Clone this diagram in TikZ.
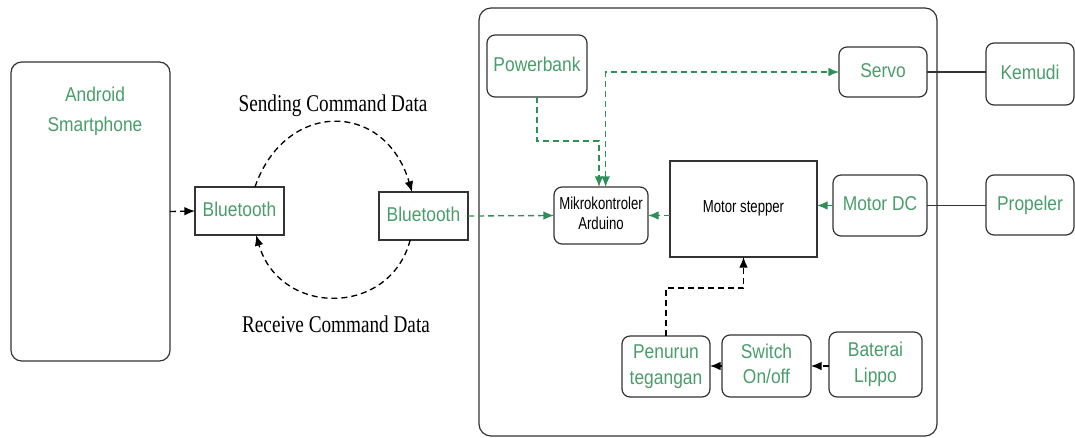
\documentclass[tikz,border=0pt]{standalone}
\usepackage{fontspec}
\usepackage{graphicx}
\usetikzlibrary{arrows.meta,calc}
\newfontfamily\sansf{Liberation Sans}
\newfontfamily\seriff{Liberation Serif}
\definecolor{txtgreen}{RGB}{74,157,107}
\definecolor{lngreen}{RGB}{47,143,90}
\newcommand{\gl}[1]{{\sansf\fontsize{15}{19}\selectfont\scalebox{0.87}[1]{\begin{tabular}{@{}c@{}}#1\end{tabular}}}}
\newcommand{\smalllbl}[1]{{\sansf\fontsize{13}{14.5}\selectfont\scalebox{0.76}[1]{\begin{tabular}{@{}c@{}}#1\end{tabular}}}}
\newcommand{\serlbl}[1]{{\seriff\fontsize{18}{20}\selectfont\scalebox{0.8}[1]{#1}}}
\tikzset{
  box/.style={draw=black!80, line width=0.9pt, inner sep=0pt, outer sep=0pt},
  rbox/.style={box, rounded corners=6pt},
  gtext/.style={text=txtgreen},
  gtip/.style={},
  garrow/.style={draw=lngreen, line width=1pt, dash pattern=on 4.5pt off 3pt, -{Latex[length=8pt,width=6.5pt,fill=lngreen]}},
  gboth/.style={draw=lngreen, line width=1pt, dash pattern=on 4.5pt off 3pt, {Latex[length=8pt,width=6.5pt,fill=lngreen]}-{Latex[length=8pt,width=6.5pt,fill=lngreen]}},
  barrow/.style={draw=black, line width=1pt, dash pattern=on 4.5pt off 3pt, -{Latex[length=8pt,width=6.5pt]}},
  solidline/.style={draw=black!80, line width=0.9pt}
}
\begin{document}
\begin{tikzpicture}[x=0.75pt, y=-0.75pt]
\useasboundingbox (0,0) rectangle (1075,437);
% left side
\node[rbox, rounded corners=8pt, minimum width=119.25pt, minimum height=224.25pt] (android) at (90.5,211.5) {};
\node[gtext] (androidlbl) at (95,111) {\gl{Android\\[3.5pt]Smartphone}};
\node[box, gtext, minimum width=66.75pt, minimum height=36pt] (bt1) at (239.5,211) {\gl{Bluetooth}};
\node[box, gtext, minimum width=66.75pt, minimum height=36pt] (bt2) at (423.5,216) {\gl{Bluetooth}};
\node[anchor=base] (sendlbl) at (333,111) {\serlbl{Sending Command Data}};
\node[anchor=base] (recvlbl) at (336,332) {\serlbl{Receive Command Data}};
% panel
\node[box, rounded corners=9pt, minimum width=343.5pt, minimum height=321pt] (panel) at (708,222) {};
\node[rbox, gtext, minimum width=75pt, minimum height=46.5pt] (pb) at (537,66) {\gl{Powerbank}};
\node[rbox, minimum width=70.5pt, minimum height=42.75pt] (mk) at (601,215.5) {\smalllbl{Mikrokontroler\\Arduino}};
\node[box, minimum width=110.25pt, minimum height=72pt] (ms) at (743.5,209) {\smalllbl{Motor stepper}};
\node[rbox, gtext, minimum width=66pt, minimum height=37.5pt] (sv) at (883,72) {\gl{Servo}};
\node[rbox, gtext, minimum width=66pt, minimum height=46.5pt] (km) at (1030,74) {\gl{Kemudi}};
\node[rbox, gtext, minimum width=70.5pt, minimum height=45.75pt] (md) at (880,205.5) {\gl{Motor DC}};
\node[rbox, gtext, minimum width=66pt, minimum height=45pt] (pr) at (1030,205) {\gl{Propeler}};
\node[rbox, gtext, minimum width=66pt, minimum height=45.75pt] (pt) at (666,366.5) {\gl{Penurun\\tegangan}};
\node[rbox, gtext, minimum width=66.75pt, minimum height=46.5pt] (sw) at (766.5,366) {\gl{Switch\\On/off}};
\node[rbox, gtext, minimum width=69.75pt, minimum height=48.75pt] (bl) at (875.5,364.5) {\gl{Baterai\\Lippo}};
% connectors left
\draw[barrow] (android.east) -- (bt1.west);
\draw[barrow] ([xshift=11.6pt]bt1.north) .. controls (285,100) and (385,100) .. ([xshift=-8.6pt]bt2.north);
\draw[barrow] ([xshift=-10pt]bt2.south) .. controls (390,317) and (280,317) .. ([xshift=12.4pt]bt1.south);
\draw[garrow] (bt2.east) -- (mk.west);
% panel connectors
\coordinate (pbturn) at (537,141);
\draw[garrow] (pb.south) -- (pbturn) -| ([xshift=-1.5pt]mk.north);
\draw[gboth] ([xshift=3.5pt]mk.north) |- (sv.west);
\draw[garrow] (ms.west |- mk.east) -- (mk.east);
\draw[garrow] (md.west) -- (md.west -| ms.east);
\draw[solidline] (sv.east) -- (sv.east -| km.west);
\draw[solidline] (md.east) -- (md.east -| pr.west);
\draw[barrow] (bl.west |- sw.east) -- (sw.east);
\draw[barrow] (sw.west) -- (sw.west -| pt.east);
\coordinate (ptturn) at (666,288);
\draw[barrow] (pt.north) -- (ptturn) -| (ms.south);
\end{tikzpicture}
\end{document}
